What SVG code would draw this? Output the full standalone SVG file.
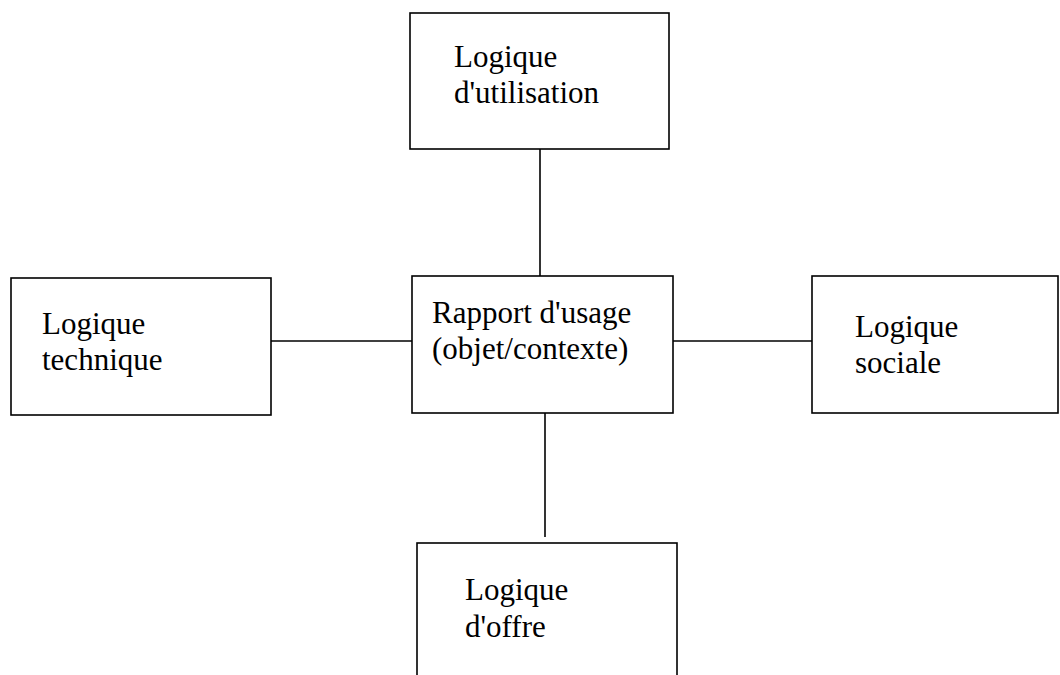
<svg xmlns="http://www.w3.org/2000/svg" width="1060" height="675" viewBox="0 0 1060 675">
<style>
.box{fill:#fff;stroke:#000;stroke-width:1.6}
.ln{stroke:#000;stroke-width:1.6;fill:none}
text{font-family:"Liberation Serif","Times New Roman",serif;font-size:31px;fill:#000}
</style>
<rect width="1060" height="675" fill="#fff"/>
<g id="connectors">
<line class="ln" x1="540" y1="149" x2="540" y2="276"/>
<line class="ln" x1="271" y1="341" x2="412" y2="341"/>
<line class="ln" x1="673" y1="341" x2="812" y2="341"/>
<line class="ln" x1="545" y1="413" x2="545" y2="537"/>
</g>
<g id="node-utilisation">
<rect class="box" x="410" y="13" width="259" height="136"/>
<text x="454" y="67">Logique</text>
<text x="454" y="103">d'utilisation</text>
</g>
<g id="node-technique">
<rect class="box" x="11" y="278" width="260" height="137"/>
<text x="42" y="334">Logique</text>
<text x="42" y="370">technique</text>
</g>
<g id="node-rapport">
<rect class="box" x="412" y="276" width="261" height="137"/>
<text x="432" y="323">Rapport d'usage</text>
<text x="432" y="359">(objet/contexte)</text>
</g>
<g id="node-sociale">
<rect class="box" x="812" y="276" width="246" height="137"/>
<text x="855" y="337">Logique</text>
<text x="855" y="373">sociale</text>
</g>
<g id="node-offre">
<rect class="box" x="417" y="543" width="260" height="140"/>
<text x="465" y="600">Logique</text>
<text x="465" y="637">d'offre</text>
</g>
</svg>
